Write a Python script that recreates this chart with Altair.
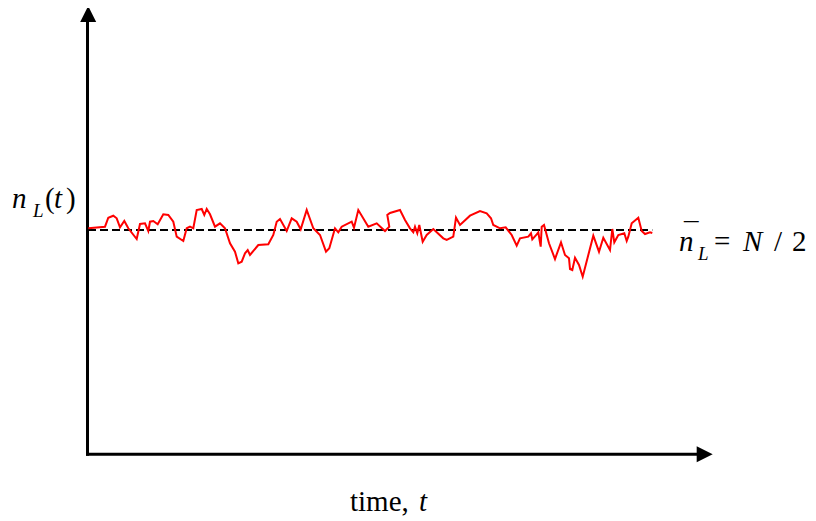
import altair as alt
import pandas as pd

# time t and n_L(t) (arbitrary units; mean N/2 = 225)
time_t = [0.3, 17, 20.3, 25.3, 28.7, 32, 36.3, 40.3, 48.7, 52, 57, 60.3, 62, 65.3, 69.7, 75.3, 80.3, 85.3,
          88.7, 95.3, 98.7, 102, 105.3, 108.7, 113.7, 116.3, 118.7, 122, 127, 132, 137, 142, 147, 150.3,
          153.7, 157, 159.7, 162, 170.3, 180.3, 185.3, 188.7, 192,
          198.7, 203.7, 208.7, 212.7, 218.7, 225.3, 232, 238, 241.3, 247, 250.3, 253.7, 263.7, 266, 270.3,
          280.3, 288.7, 297, 301.3, 299.3, 302, 312, 317, 322, 325.3, 327, 329.3, 331.3, 334.7, 338.7, 345.3,
          355.3, 358.7, 365.3, 368, 372, 382, 392,
          398.7, 403, 405.3, 412, 417.7, 423.7, 428.7, 432, 440.3, 443, 444.3, 448.7, 450.3, 452.7, 453.7,
          456, 461, 467, 473, 477, 481, 482, 484.3, 487, 491, 494.7, 500.3, 505.3, 511, 515.3, 522, 524.3,
          526.3, 530.3, 536.3, 538.7, 540.3, 543.7, 550.3, 553.7, 557, 562, 564.3]
n_L = [226.7, 228.3, 237.3, 239.3, 236.7, 227.7, 234, 226.7, 216, 231, 231.7, 224, 233.3, 234, 230.7, 240.7,
       240, 233.3, 218.3, 214, 226.7, 228.3, 226.7, 245, 246, 240, 246, 240.7, 228.3, 231.7, 226.7, 211.7,
       203.3, 191.7, 193.3, 201.7, 205, 200, 210, 210.7, 220, 233.3, 236,
       224, 236.7, 233.3, 225.7, 245, 226.7, 220, 203.3, 206.7, 226.7, 222.7, 228.3, 233.3, 227.3, 245,
       228.3, 231.7, 224, 228.3, 240, 242, 245, 235, 226.7, 222.7, 228.3, 221.7, 230, 213.3, 220, 226,
       216.7, 215, 218.3, 237.3, 230, 239.3, 244,
       241.7, 236.7, 230, 226.7, 227.7, 220, 209.3, 216.7, 218.3, 221.7, 215.7, 220.7, 222.7, 208.3, 228.3,
       230, 211.7, 196, 212.7, 200, 196.7, 186, 185, 197.3, 190, 178.3, 200, 219.3, 203.3, 217.3, 205, 226,
       212.7, 220, 221.7, 214, 218.3, 231.7, 237.3, 224, 221, 222.7, 222]
mean_n = [225]
mean_span = [0, 564.3]
axis_t = [-0.5, 612]      # time axis extent
axis_n = [0.7, 438]       # n axis extent

df = pd.DataFrame({"t": time_t, "n": n_L, "i": list(range(len(time_t)))})

xs = alt.Scale(domain=[-80, 720], nice=False, zero=False)
ys = alt.Scale(domain=[-66, 447], nice=False, zero=False)
X = lambda f: alt.X(f, scale=xs, axis=None)
Y = lambda f: alt.Y(f, scale=ys, axis=None)

one = pd.DataFrame({"a": [0]})
SERIF = "Times New Roman"

# axes
yaxis = alt.Chart(pd.DataFrame({"t": [axis_t[0]], "n0": [axis_n[0] - 1.5], "n1": [axis_n[1]]})).mark_rule(
    color="black", strokeWidth=3).encode(x=X("t:Q"), y=Y("n0:Q"), y2="n1:Q")
xaxis = alt.Chart(pd.DataFrame({"n": [axis_n[0]], "t0": [axis_t[0] - 1.5], "t1": [axis_t[1]]})).mark_rule(
    color="black", strokeWidth=3).encode(y=Y("n:Q"), x=X("t0:Q"), x2="t1:Q")
up_arrow = alt.Chart(pd.DataFrame({"t": [axis_t[0] + 0.7], "n": [axis_n[1] + 3]})).mark_point(
    shape="M0,-1L1,1L-1,1Z", filled=True, size=256, color="black", opacity=1, strokeWidth=0).encode(
    x=X("t:Q"), y=Y("n:Q"))
right_arrow = alt.Chart(pd.DataFrame({"t": [axis_t[1] + 4.7], "n": [axis_n[0]]})).mark_point(
    shape="M1,0L-1,-1L-1,1Z", filled=True, size=256, color="black", opacity=1, strokeWidth=0).encode(
    x=X("t:Q"), y=Y("n:Q"))

dash = alt.Chart(pd.DataFrame({"n": mean_n, "t0": [mean_span[0]], "t1": [mean_span[1]]})).mark_rule(
    color="black", strokeWidth=1.8, strokeDash=[8, 4]).encode(y=Y("n:Q"), x=X("t0:Q"), x2="t1:Q")

line = alt.Chart(df).mark_line(color="#ff0000", strokeWidth=2).encode(
    x=X("t:Q"), y=Y("n:Q"), order="i:Q")


def txt(s, px, py, size=29, italic=False):
    if italic:
        mk = alt.Chart(one).mark_text(font=SERIF, fontSize=size, align="left", fontStyle="italic")
    else:
        mk = alt.Chart(one).mark_text(font=SERIF, fontSize=size, align="left")
    return mk.encode(x=alt.value(px - 8), y=alt.value(py - 8 - 0.3 * size), text=alt.value(s))


labels = [
    txt("n", 12, 207.7, italic=True),
    txt("L", 33, 216.7, size=19, italic=True),
    txt("(", 45, 207.7),
    txt("t", 54, 207.7, italic=True),
    txt(")", 66, 207.7),
    txt("n", 679, 251, italic=True),
    txt("\u00af", 684, 243),
    txt("L", 698, 260, size=19, italic=True),
    txt("=", 714, 251),
    txt("N", 743, 251, italic=True),
    txt("/", 774, 251),
    txt("2", 792, 251),
    txt("time,", 350, 511),
    txt("t", 419, 511, italic=True),
]

chart = alt.layer(yaxis, xaxis, up_arrow, right_arrow, dash, line, *labels).properties(
    width=800, height=513, padding=0, autosize=alt.AutoSizeParams(type="none")
).configure_view(stroke=None)

chart.save("out.html", embed_options={"renderer": "svg", "actions": False})
